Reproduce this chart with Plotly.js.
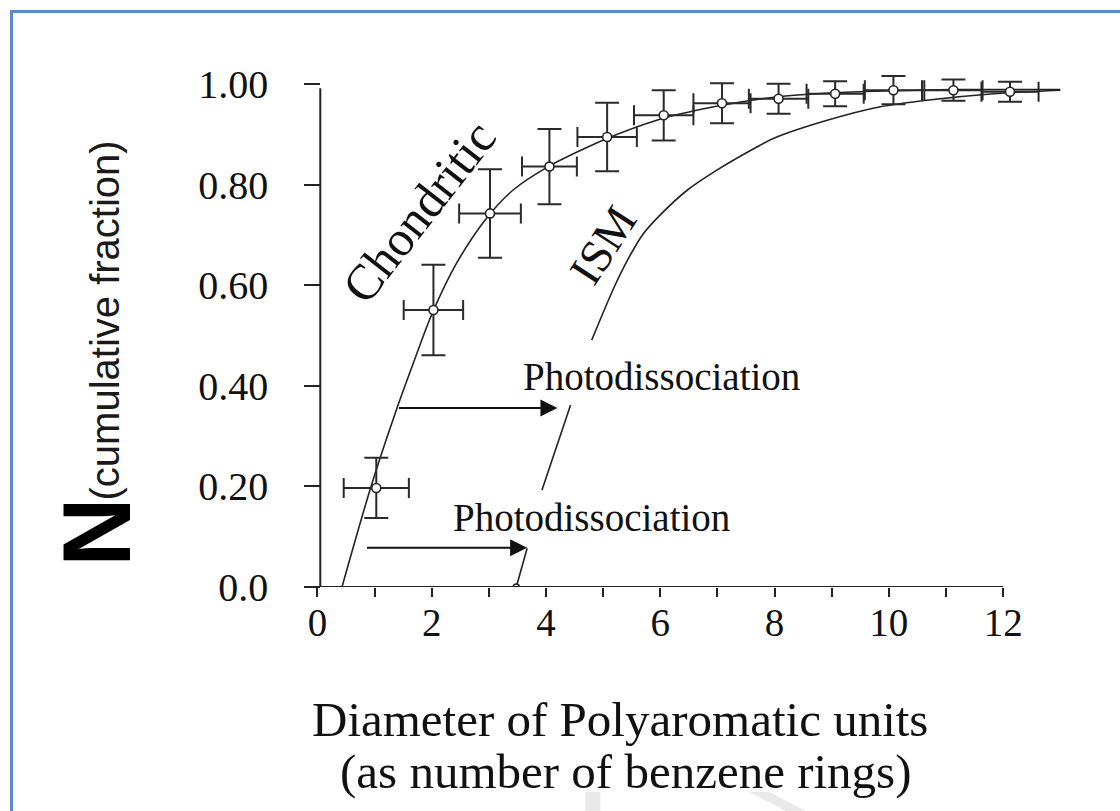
<!DOCTYPE html>
<html>
<head>
<meta charset="utf-8">
<script src="https://cdn.plot.ly/plotly-3.0.1.min.js"></script>
<style>
  html, body { margin: 0; padding: 0; background: #ffffff; }
  #wrap { position: relative; width: 1120px; height: 811px; overflow: hidden; }
  #chart { position: absolute; left: 0; top: 0; width: 1120px; height: 811px; }
  #frame { position: absolute; left: 10px; top: 10px; width: 1300px; height: 1000px;
           border-left: 3px solid #5a8bd2; border-top: 3px solid #5a8bd2; pointer-events: none; }
</style>
</head>
<body>
<div id="wrap">
  <div id="chart"></div>
  <div id="frame"></div>
</div>
<script>
// Measured cumulative fraction of polyaromatic unit sizes (chondritic matter)
const ringCount   = [1.03, 2.03, 3.02, 4.06, 5.07, 6.06, 7.08, 8.07, 9.06, 10.08, 11.13, 12.12];
const cumFraction = [0.197, 0.551, 0.743, 0.836, 0.895, 0.938, 0.962, 0.971, 0.981, 0.988, 0.988, 0.985];
const ringErr     = [0.57, 0.52, 0.54, 0.48, 0.52, 0.52, 0.50, 0.52, 0.50, 0.50, 0.51, 0.50];
const fractionErr = [0.060, 0.090, 0.088, 0.075, 0.068, 0.050, 0.040, 0.030, 0.025, 0.028, 0.021, 0.020];

// Fitted chondritic distribution
const chondX = [0.43, 0.93, 1.39, 1.70, 2.00, 2.44, 2.97, 3.43, 4.04, 4.60, 5.07, 6.05, 7.08, 8.06, 9.06, 10.08, 11.12, 13.0];
const chondY = [0.0, 0.197, 0.355, 0.452, 0.542, 0.645, 0.735, 0.790, 0.836, 0.868, 0.892, 0.932, 0.958, 0.975, 0.983, 0.987, 0.989, 0.989];

// Interstellar (ISM) distribution; null marks where the curve is interrupted by labels
const ismX = [3.48, 3.67, null, 3.93, 4.43, null, 4.80, 5.20, 5.45, 5.70, 6.00, 6.47, 6.99, 7.69, 7.98, 8.92, 9.85, 10.66, 11.83, 13.0];
const ismY = [0.0, 0.077, null, 0.193, 0.362, null, 0.491, 0.598, 0.655, 0.702, 0.740, 0.789, 0.829, 0.875, 0.892, 0.928, 0.955, 0.968, 0.981, 0.988];

// Axis ticks
const xTickVals = [0, 1, 2, 3, 4, 5, 6, 7, 8, 9, 10, 11, 12];
const xTickText = ['0', '', '2', '', '4', '', '6', '', '8', '', '10', '', '12'];
const yTickVals = [0, 0.2, 0.4, 0.6, 0.8, 1.0];
const yTickText = ['0.0', '0.20', '0.40', '0.60', '0.80', '1.00'];

// Photodissociation shift arrows: [x start, x end, y]
const arrowUpper = [1.40, 4.20, 0.356];
const arrowLower = [0.84, 3.67, 0.078];

const serif = 'Liberation Serif, Times New Roman, serif';
const sans = 'Liberation Sans, Arial, sans-serif';
const ink = '#111111';

const traces = [
  {
    x: chondX, y: chondY, mode: 'lines', type: 'scatter',
    line: { color: '#222222', width: 1.6, shape: 'spline', smoothing: 0.8 },
    hoverinfo: 'skip', showlegend: false
  },
  {
    x: ismX, y: ismY, mode: 'lines', type: 'scatter', connectgaps: false,
    line: { color: '#222222', width: 1.6, shape: 'spline', smoothing: 0.8 },
    hoverinfo: 'skip', showlegend: false
  },
  {
    x: [ismX[0]], y: [ismY[0]], mode: 'markers', type: 'scatter',
    marker: { symbol: 'circle', size: 6, color: '#ffffff', line: { color: '#222222', width: 1.5 } },
    showlegend: false
  },
  {
    x: ringCount, y: cumFraction, mode: 'markers', type: 'scatter',
    marker: { symbol: 'circle', size: 9, color: '#ffffff', line: { color: '#222222', width: 1.6 } },
    error_x: { type: 'data', array: ringErr, visible: true, color: '#2a2a2a', thickness: 2, width: 10 },
    error_y: { type: 'data', array: fractionErr, visible: true, color: '#2a2a2a', thickness: 2, width: 12 },
    showlegend: false
  }
];

function arrow(a) {
  return {
    x: a[1], y: a[2], ax: a[0], ay: a[2], xref: 'x', yref: 'y', axref: 'x', ayref: 'y',
    text: '', showarrow: true, arrowhead: 2, arrowsize: 1.7, arrowwidth: 2, arrowcolor: '#111111',
    standoff: 0, startstandoff: 0
  };
}

function label(x, y, ref, text, size, family, extra) {
  return Object.assign({
    x: x, y: y, xref: ref === 'paper' ? 'paper' : 'x', yref: ref === 'paper' ? 'paper' : 'y',
    xanchor: 'center', yanchor: 'middle', text: text, showarrow: false,
    font: { family: family, size: size, color: ink }
  }, extra || {});
}

const layout = {
  width: 1120, height: 811,
  margin: { l: 305.6, r: 54.4, t: 58.85, b: 224 },
  paper_bgcolor: '#ffffff', plot_bgcolor: '#ffffff',
  showlegend: false,
  xaxis: {
    range: [-0.2, 13.1], showgrid: false, zeroline: false, showline: false,
    tickmode: 'array', tickvals: xTickVals, ticktext: xTickText,
    ticks: 'outside', ticklen: 9, tickwidth: 2, tickcolor: '#222222',
    ticklabelstandoff: -8,
    tickfont: { family: serif, size: 39, color: ink }
  },
  yaxis: {
    range: [0, 1.05], showgrid: false, zeroline: false, showline: false,
    anchor: 'free', position: 0.0189,
    tickmode: 'array', tickvals: yTickVals, ticktext: yTickText,
    ticks: 'outside', ticklen: 16, tickwidth: 2, tickcolor: '#222222',
    ticklabelstandoff: 28,
    tickfont: { family: serif, size: 40, color: ink }
  },
  shapes: [
    // axis lines
    { type: 'line', xref: 'x', yref: 'y', x0: -0.2, x1: 12, y0: 0, y1: 0, line: { color: '#222222', width: 2 } },
    { type: 'line', xref: 'x', yref: 'y', x0: 0.05, x1: 0.05, y0: 0, y1: 0.992, line: { color: '#222222', width: 2 } },
    // faint watermark strokes at the foot of the figure
    { type: 'rect', xref: 'paper', yref: 'paper', x0: 0.3674, x1: 0.3872, y0: -0.3882, y1: -0.43,
      fillcolor: '#e9e9e9', line: { width: 0 }, layer: 'below' },
    { type: 'path', xref: 'paper', yref: 'paper',
      path: 'M 0.5834 -0.3882 L 0.6097 -0.3882 L 0.6649 -0.43 L 0.6386 -0.43 Z',
      fillcolor: '#e9e9e9', line: { width: 0 }, layer: 'below' }
  ],
  annotations: [
    arrow(arrowUpper),
    arrow(arrowLower),
    label(6.02, 0.418, 'data', 'Photodissociation', 39, serif),
    label(4.79, 0.139, 'data', 'Photodissociation', 39, serif),
    label(1.77, 0.746, 'data', 'Chondritic', 50, serif, { textangle: -52 }),
    label(4.99, 0.680, 'data', 'ISM', 46, serif, { textangle: -57 }),
    // y-axis title: large N with its subscript
    label(-0.2756, 0.104, 'paper', 'N', 96, sans,
      { textangle: -90, font: { family: sans, size: 96, weight: 'bold', color: '#000000' } }),
    label(-0.264, 0.5055, 'paper', '(cumulative fraction)', 40, sans,
      { textangle: -90, font: { family: sans, size: 40, color: '#1a1a1a' } }),
    // x-axis title
    label(0.4136, -0.25, 'paper', 'Diameter of Polyaromatic units', 49, serif),
    label(0.42, -0.349, 'paper', '(as number of benzene rings)', 49, serif)
  ]
};

Plotly.newPlot('chart', traces, layout, { displayModeBar: false, staticPlot: true });
</script>
</body>
</html>
